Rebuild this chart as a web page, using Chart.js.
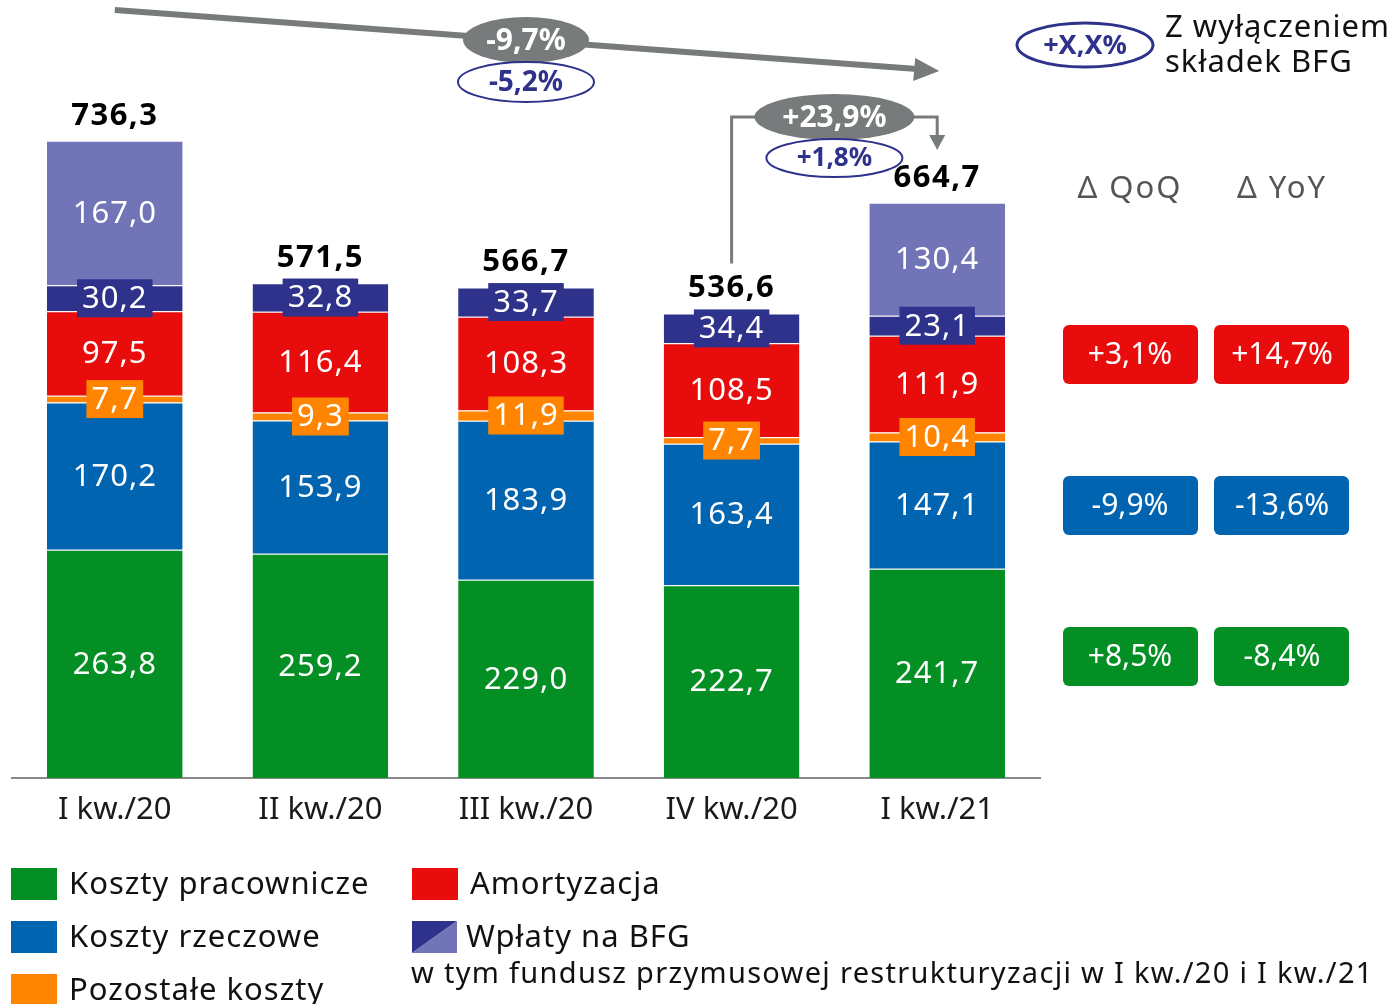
<!DOCTYPE html>
<html>
<head>
<meta charset="utf-8">
<script src="https://cdn.jsdelivr.net/npm/chart.js@4.4.7/dist/chart.umd.min.js"></script>
<style>
  body { margin: 0; background: #fff; }
  canvas { display: block; }
</style>
</head>
<body>
<canvas id="bar_chart" width="1389" height="1004"></canvas>
<script>
// Categories and series (mln zł)
const categories = ['I kw./20', 'II kw./20', 'III kw./20', 'IV kw./20', 'I kw./21'];
const kosztyPracownicze = [263.8, 259.2, 229.0, 222.7, 241.7];
const kosztyRzeczowe = [170.2, 153.9, 183.9, 163.4, 147.1];
const pozostaleKoszty = [7.7, 9.3, 11.9, 7.7, 10.4];
const amortyzacja = [97.5, 116.4, 108.3, 108.5, 111.9];
const wplatyBFG = [30.2, 32.8, 33.7, 34.4, 23.1];
const funduszFPR = [167.0, null, null, null, 130.4];
const totals = [736.3, 571.5, 566.7, 536.6, 664.7];

// Change labels
const totalYoY = '-9,7%';
const totalYoYexBFG = '-5,2%';
const totalQoQ = '+23,9%';
const totalQoQexBFG = '+1,8%';
const deltaQoQ = ['+3,1%', '-9,9%', '+8,5%'];   // amortyzacja, rzeczowe, pracownicze
const deltaYoY = ['+14,7%', '-13,6%', '-8,4%'];

const C = {
    green: '#038f23',
    blue: '#0064b0',
    orange: '#ff8500',
    red: '#e80c0c',
    navy: '#2e328b',
    purple: '#7274b8',
    grey: '#787b7b'
};
const FONT = '"Noto Sans", "Open Sans", sans-serif';

function fmt(v) {
    return v.toFixed(1).replace('.', ',');
}

function ellipse(ctx, x, y, rx, ry, fill, stroke, lw) {
    ctx.beginPath();
    ctx.ellipse(x, y, rx, ry, 0, 0, Math.PI * 2);
    if (fill) { ctx.fillStyle = fill; ctx.fill(); }
    if (stroke) { ctx.lineWidth = lw; ctx.strokeStyle = stroke; ctx.stroke(); }
}

function roundBox(ctx, x, y, w, h, r, fill) {
    ctx.beginPath();
    ctx.roundRect(x, y, w, h, r);
    ctx.fillStyle = fill;
    ctx.fill();
}

// Segment values + totals
const labelPlugin = {
    id: 'labels',
    afterDatasetsDraw(chart) {
        const ctx = chart.ctx;
        ctx.save();
        ctx.textAlign = 'center';
        ctx.textBaseline = 'middle';
        ctx.letterSpacing = '1px';
        chart.data.datasets.forEach((ds, i) => {
            const meta = chart.getDatasetMeta(i);
            meta.data.forEach((el, j) => {
                const v = ds.data[j];
                if (v == null) return;
                const cy = (el.y + el.base) / 2;
                const txt = fmt(v);
                ctx.font = '31px ' + FONT;
                if (ds.labelBox) {
                    const w = ctx.measureText(txt).width + 10;
                    ctx.fillStyle = ds.backgroundColor;
                    ctx.fillRect(el.x - w / 2, cy - 19, w, 38);
                }
                ctx.fillStyle = '#fff';
                ctx.fillText(txt, el.x, cy + 1);
            });
        });
        // totals
        const xs = chart.scales.x, ys = chart.scales.y;
        ctx.letterSpacing = '1.5px';
        ctx.font = 'bold 31px ' + FONT;
        ctx.fillStyle = '#000';
        totals.forEach((t, j) => {
            ctx.fillText(fmt(t), xs.getPixelForValue(j), ys.getPixelForValue(t) - 25);
        });
        ctx.restore();
    }
};

// Arrows, ellipses, side boxes and legend
const annotationPlugin = {
    id: 'annotations',
    afterDraw(chart) {
        const ctx = chart.ctx;
        const xs = chart.scales.x, ys = chart.scales.y;
        const x0 = xs.getPixelForValue(0), x3 = xs.getPixelForValue(3), x4 = xs.getPixelForValue(4);
        ctx.save();
        ctx.textAlign = 'center';
        ctx.textBaseline = 'middle';

        // long YoY arrow
        ctx.strokeStyle = C.grey;
        ctx.fillStyle = C.grey;
        ctx.lineWidth = 6;
        ctx.beginPath();
        ctx.moveTo(x0, 10);
        ctx.lineTo(x4 - 20, 69);
        ctx.stroke();
        ctx.beginPath();
        ctx.moveTo(x4 + 2, 71);
        ctx.lineTo(x4 - 22, 58);
        ctx.lineTo(x4 - 24, 81);
        ctx.closePath();
        ctx.fill();

        const mx = xs.getPixelForValue(2);
        ellipse(ctx, mx, 40, 63, 23, C.grey);
        ctx.font = 'bold 30px ' + FONT;
        ctx.fillStyle = '#fff';
        ctx.fillText(totalYoY, mx, 41);
        ellipse(ctx, mx, 82, 68, 20, '#fff', C.navy, 2);
        ctx.font = 'bold 28px ' + FONT;
        ctx.fillStyle = C.navy;
        ctx.fillText(totalYoYexBFG, mx, 83);

        // QoQ bracket
        const qx = (x3 + x4) / 2;
        ctx.strokeStyle = C.grey;
        ctx.lineWidth = 3;
        ctx.beginPath();
        ctx.moveTo(x3, ys.getPixelForValue(totals[3]) - 50);
        ctx.lineTo(x3, 117);
        ctx.lineTo(qx - 70, 117);
        ctx.moveTo(qx + 70, 117);
        ctx.lineTo(x4, 117);
        ctx.lineTo(x4, 136);
        ctx.stroke();
        ctx.fillStyle = C.grey;
        ctx.beginPath();
        ctx.moveTo(x4 - 8, 135);
        ctx.lineTo(x4 + 8, 135);
        ctx.lineTo(x4, 150);
        ctx.closePath();
        ctx.fill();
        ellipse(ctx, qx, 117, 80, 23, C.grey);
        ctx.font = 'bold 30px ' + FONT;
        ctx.fillStyle = '#fff';
        ctx.fillText(totalQoQ, qx, 118);
        ellipse(ctx, qx, 158, 68, 19, '#fff', C.navy, 2);
        ctx.font = 'bold 26px ' + FONT;
        ctx.fillStyle = C.navy;
        ctx.fillText(totalQoQexBFG, qx, 159);

        // legend for ellipses
        ellipse(ctx, 1085, 45, 68, 22, '#fff', C.navy, 3);
        ctx.font = 'bold 27px ' + FONT;
        ctx.fillStyle = C.navy;
        ctx.fillText('+X,X%', 1085, 46);
        ctx.textAlign = 'left';
        ctx.letterSpacing = '1px';
        ctx.font = '31px ' + FONT;
        ctx.fillStyle = '#111';
        ctx.fillText('Z wyłączeniem', 1165, 28);
        ctx.fillText('składek BFG', 1165, 63);

        // delta headers and boxes
        ctx.textAlign = 'center';
        ctx.fillStyle = '#555';
        ctx.letterSpacing = '2px';
        ctx.fillText('Δ QoQ', 1130, 189);
        ctx.fillText('Δ YoY', 1282, 189);
        ctx.letterSpacing = '0px';
        const boxColors = [C.red, C.blue, C.green];
        const boxY = [325, 476, 627];
        boxColors.forEach((col, k) => {
            roundBox(ctx, 1063, boxY[k], 135, 59, 6, col);
            roundBox(ctx, 1214, boxY[k], 135, 59, 6, col);
            ctx.fillStyle = '#fff';
            ctx.font = '30px ' + FONT;
            ctx.fillText(deltaQoQ[k], 1130, boxY[k] + 30);
            ctx.fillText(deltaYoY[k], 1282, boxY[k] + 30);
        });

        // bottom legend
        ctx.textAlign = 'left';
        ctx.letterSpacing = '1px';
        ctx.font = '31px ' + FONT;
        const leg = [
            [C.green, 'Koszty pracownicze', 11, 868],
            [C.blue, 'Koszty rzeczowe', 11, 921],
            [C.orange, 'Pozostałe koszty', 11, 974],
            [C.red, 'Amortyzacja', 412, 868]
        ];
        leg.forEach(([col, txt, x, y]) => {
            ctx.fillStyle = col;
            ctx.fillRect(x, y, 46, 32);
            ctx.fillStyle = '#111';
            ctx.fillText(txt, x + 58, y + 17);
        });
        // split square for BFG
        ctx.fillStyle = C.navy;
        ctx.beginPath();
        ctx.moveTo(412, 921); ctx.lineTo(457, 921); ctx.lineTo(412, 953); ctx.closePath();
        ctx.fill();
        ctx.fillStyle = C.purple;
        ctx.beginPath();
        ctx.moveTo(457, 921); ctx.lineTo(457, 953); ctx.lineTo(412, 953); ctx.closePath();
        ctx.fill();
        ctx.fillStyle = '#111';
        ctx.fillText('Wpłaty na BFG', 466, 938);
        ctx.letterSpacing = '1.3px';
        ctx.font = '29px ' + FONT;
        ctx.fillText('w tym fundusz przymusowej restrukturyzacji w I kw./20 i I kw./21', 411, 975);
        ctx.restore();
    }
};

function makeSet(label, data, color, box) {
    return {
        label: label,
        data: data,
        backgroundColor: color,
        borderColor: '#ffffff',
        borderWidth: { top: 1, bottom: 1, left: 0, right: 0 },
        labelBox: box
    };
}

const ctx = document.getElementById('bar_chart');

new Chart(ctx, {
    type: 'bar',
    data: {
        labels: categories,
        datasets: [
            makeSet('Koszty pracownicze', kosztyPracownicze, C.green, false),
            makeSet('Koszty rzeczowe', kosztyRzeczowe, C.blue, false),
            makeSet('Pozostałe koszty', pozostaleKoszty, C.orange, true),
            makeSet('Amortyzacja', amortyzacja, C.red, false),
            makeSet('Wpłaty na BFG', wplatyBFG, C.navy, true),
            makeSet('Fundusz przymusowej restrukturyzacji', funduszFPR, C.purple, false)
        ]
    },
    options: {
        responsive: false,
        animation: false,
        layout: {
            padding: { left: 12, right: 349, top: 0, bottom: 166 }
        },
        datasets: {
            bar: { categoryPercentage: 1, barPercentage: 0.66 }
        },
        scales: {
            x: {
                stacked: true,
                grid: { display: false, drawTicks: false },
                border: { display: true, color: '#8a8a8a', width: 2 },
                ticks: {
                    color: '#1a1a1a',
                    padding: 14,
                    font: { size: 31, family: FONT }
                },
                afterFit: function(scale) { scale.height = 60; }
            },
            y: {
                stacked: true,
                display: false,
                min: 0,
                max: 899
            }
        },
        plugins: {
            legend: { display: false },
            tooltip: { enabled: false },
            title: { display: false }
        }
    },
    plugins: [labelPlugin, annotationPlugin]
});
</script>
</body>
</html>
